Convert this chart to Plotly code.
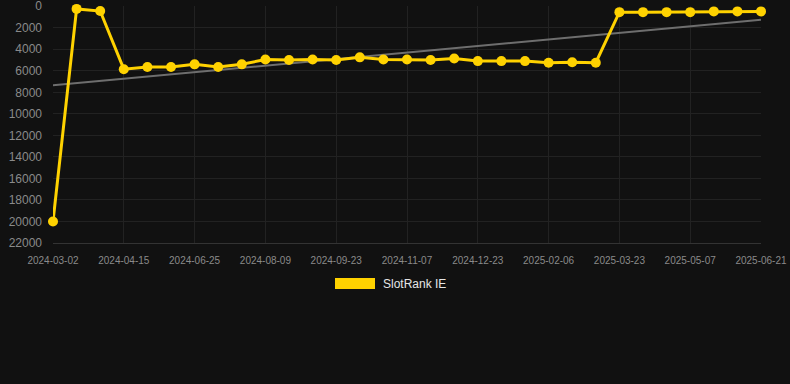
import numpy as np
import plotly.graph_objects as go

dates = ["2024-03-02", "2024-03-17", "2024-03-31", "2024-04-15", "2024-05-09", "2024-06-01",
         "2024-06-25", "2024-07-10", "2024-07-25", "2024-08-09", "2024-08-24", "2024-09-08",
         "2024-09-23", "2024-10-08", "2024-10-23", "2024-11-07", "2024-11-22", "2024-12-08",
         "2024-12-23", "2025-01-07", "2025-01-22", "2025-02-06", "2025-02-21", "2025-03-08",
         "2025-03-23", "2025-04-07", "2025-04-22", "2025-05-07", "2025-05-22", "2025-06-06",
         "2025-06-21"]
ranks = [20000, 250, 450, 5850, 5650, 5650, 5400, 5650, 5400, 4950, 5000, 4950,
         5000, 4750, 4950, 4950, 5000, 4850, 5100, 5100, 5100, 5250, 5200, 5250,
         550, 550, 550, 550, 480, 480, 480]
tick_labels = dates[::3]
y_ticks = list(range(0, 22001, 2000))
series_name = "SlotRank IE"

idx = np.arange(len(ranks))
slope, intercept = np.polyfit(idx, ranks, 1)
trend = slope * idx + intercept

fig = go.Figure()
fig.add_trace(go.Scatter(
    x=dates, y=trend, mode="lines",
    line=dict(color="#6e6e6e", width=2),
    showlegend=False, hoverinfo="skip", cliponaxis=False))
fig.add_trace(go.Scatter(
    x=dates, y=ranks, mode="lines+markers", name=series_name,
    line=dict(color="#ffd200", width=3),
    marker=dict(color="#ffd200", size=10),
    showlegend=False, cliponaxis=False))

font_family = "Liberation Sans, Arial, sans-serif"
fig.update_layout(
    width=790, height=384,
    margin=dict(l=53, r=29, t=6, b=141),
    paper_bgcolor="#111111", plot_bgcolor="#111111",
    font=dict(family=font_family, color="#8a8a8a"),
    xaxis=dict(type="category", categoryorder="array", categoryarray=dates,
               range=[0, len(dates) - 1], tickvals=tick_labels, ticktext=tick_labels,
               tickfont=dict(size=10, color="#8a8a8a"), showgrid=True, gridcolor="#222222",
               showline=True, linecolor="#333333", ticks="", ticklabelstandoff=8,
               zeroline=False, fixedrange=True, automargin=False,
               ticklabeloverflow="allow"),
    yaxis=dict(range=[22000, -20], tickvals=y_ticks, ticktext=[str(v) for v in y_ticks],
               tickfont=dict(size=12, color="#8a8a8a"),
               showgrid=True, gridcolor="#222222", zeroline=False, ticks="",
               ticklabelstandoff=10, showline=False, fixedrange=True, automargin=False,
               ticklabeloverflow="allow"),
    shapes=[dict(type="rect", xref="paper", yref="paper",
                 x0=(335 - 53) / 708, x1=(375 - 53) / 708,
                 y0=(243 - 289) / 237, y1=(243 - 278) / 237,
                 fillcolor="#ffd200", line=dict(width=0))],
    annotations=[dict(text=series_name, xref="paper", yref="paper",
                      x=(381 - 53) / 708, y=(243 - 284) / 237,
                      xanchor="left", yanchor="middle", showarrow=False,
                      font=dict(size=12, color="#e6e6e6", family=font_family))],
)

fig.write_html("out.html")
